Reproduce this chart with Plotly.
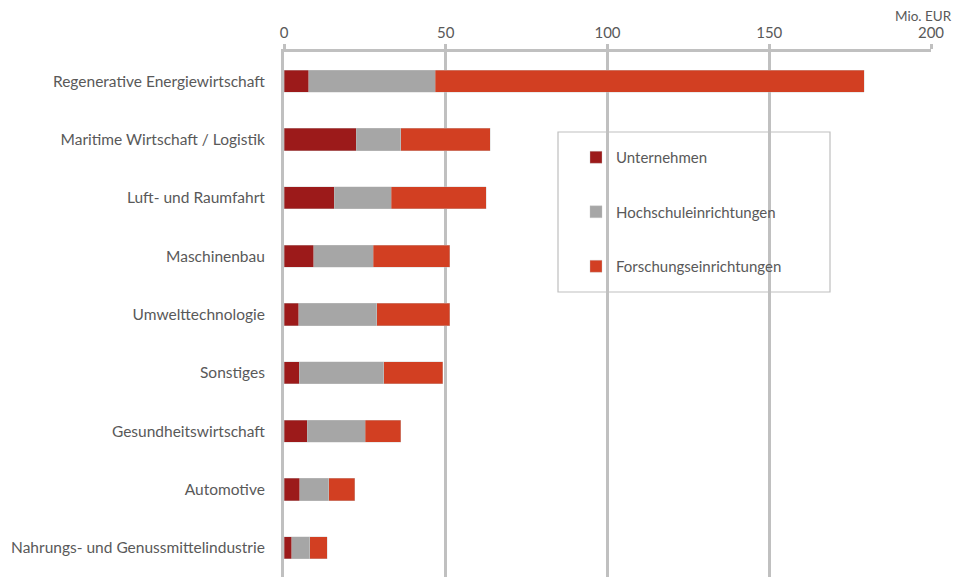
import plotly.graph_objects as go

categories = [
    "Regenerative Energiewirtschaft",
    "Maritime Wirtschaft / Logistik",
    "Luft- und Raumfahrt",
    "Maschinenbau",
    "Umwelttechnologie",
    "Sonstiges",
    "Gesundheitswirtschaft",
    "Automotive",
    "Nahrungs- und Genussmittelindustrie",
]
unternehmen = [7.7, 22.4, 15.6, 9.2, 4.6, 4.7, 7.2, 4.9, 2.4]
hochschule = [39.1, 13.7, 17.5, 18.4, 24.0, 26.1, 17.9, 8.9, 5.6]
forschung = [132.5, 27.7, 29.4, 23.7, 22.7, 18.2, 11.0, 8.1, 5.4]
series_names = ["Unternehmen", "Hochschuleinrichtungen", "Forschungseinrichtungen"]
series_colors = ["#9c1a1a", "#a6a6a6", "#d23f22"]
x_ticks = [0, 50, 100, 150, 200]
unit_label = "Mio. EUR"

FONT = "Lato, 'Open Sans', sans-serif"
TXT = "#595959"

# page offset of the figure inside the html body (default body margin)
OFF = 8
W, H = 963, 577
L, R, T, B = 284 - OFF, W - (931 - OFF), 52 - OFF, OFF
PW = W - L - R
PH = H - T - B


def px(x):
    return (x - OFF - L) / PW


def py(y):
    return (H - B - (y - OFF)) / PH


fig = go.Figure()
for name, vals, col in zip(series_names, [unternehmen, hochschule, forschung], series_colors):
    fig.add_trace(go.Bar(
        y=categories, x=vals, name=name, orientation="h",
        marker=dict(color=col, line=dict(color="rgba(200,200,200,0.6)", width=0.6)),
        legendgroup=name,
    ))

fig.update_layout(
    width=W, height=H,
    barmode="stack", bargap=0.62,
    plot_bgcolor="white", paper_bgcolor="white",
    margin=dict(l=L, r=R, t=T, b=B, autoexpand=False),
    font=dict(family=FONT, size=15, color=TXT),
    showlegend=True,
    legend=dict(
        x=px(576), y=py(141), xanchor="left", yanchor="top",
        traceorder="grouped", tracegroupgap=32,
        bgcolor="rgba(0,0,0,0)", borderwidth=0,
        font=dict(family=FONT, size=15, color=TXT),
        itemwidth=30,
    ),
    xaxis=dict(
        side="top", range=[0, 200], tickvals=x_ticks,
        showgrid=True, gridcolor="#c0c0c0", gridwidth=2.5,
        showline=True, linecolor="#c0c0c0", linewidth=2.5,
        ticks="outside", ticklen=5, tickcolor="#c0c0c0", tickwidth=2.5,
        zeroline=False, automargin=False,
        tickfont=dict(family=FONT, size=15, color=TXT),
        fixedrange=True,
    ),
    yaxis=dict(
        categoryorder="array", categoryarray=categories, autorange="reversed",
        showline=True, linecolor="#c0c0c0", linewidth=3,
        showgrid=False, ticks="", ticklabelstandoff=13, automargin=False,
        tickfont=dict(family=FONT, size=15.5, color=TXT),
    ),
    shapes=[dict(
        type="rect", xref="paper", yref="paper",
        x0=px(558), x1=px(830),
        y0=py(292), y1=py(132),
        line=dict(color="#bfbfbf", width=1.2), fillcolor="white", layer="below",
    )],
    annotations=[dict(
        text=unit_label, xref="paper", yref="paper",
        x=px(954), y=py(16.5), xanchor="right", yanchor="middle",
        showarrow=False, font=dict(family=FONT, size=13.5, color=TXT),
    )],
)

fig.write_html("out.html")
